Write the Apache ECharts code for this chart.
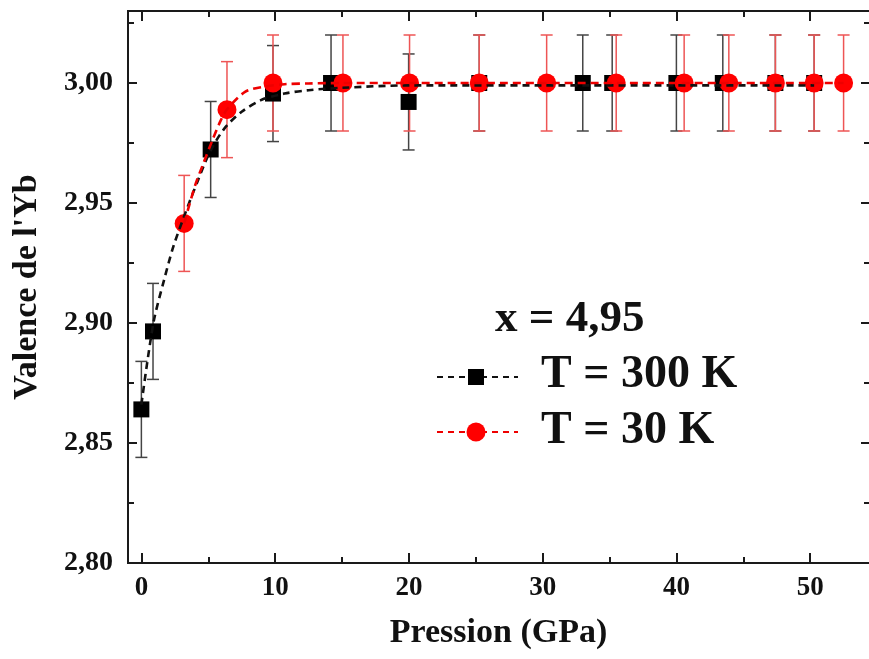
<!DOCTYPE html>
<html>
<head>
<meta charset="utf-8">
<script src="https://cdn.jsdelivr.net/npm/echarts@6/dist/echarts.min.js"></script>
<style>html,body{margin:0;padding:0;background:#fff}#c{width:869px;height:659px}</style>
</head>
<body>
<div id="c"></div>
<script>
// ---- data ----
const p300 = [0, 0.87, 5.18, 9.84, 14.18, 19.98, 25.26, 33.0, 35.2, 40.0, 43.47, 47.4, 50.3];
const v300 = [2.864, 2.8965, 2.9723, 2.9956, 3.000, 2.9921, 3.000, 3.000, 3.000, 3.000, 3.000, 3.000, 3.000];
const e300 = [0.02, 0.02, 0.02, 0.02, 0.02, 0.02, 0.02, 0.02, 0.02, 0.02, 0.02, 0.02, 0.02];

const p30 = [3.2, 6.4, 9.84, 15.07, 20.05, 25.26, 30.3, 35.5, 40.58, 43.92, 47.4, 50.3, 52.5];
const v30 = [2.9415, 2.9889, 3.000, 3.000, 3.000, 3.000, 3.000, 3.000, 3.000, 3.000, 3.000, 3.000, 3.000];
const e30 = [0.02, 0.02, 0.02, 0.02, 0.02, 0.02, 0.02, 0.02, 0.02, 0.02, 0.02, 0.02, 0.02];

// dashed guide curves
const fit300x = [0, 0.9, 1.7, 2.4, 3.3, 4.2, 5.1, 6.2, 7.5, 9.0, 10.7, 12.5, 15, 20, 30, 40, 50.3];
const fit300y = [2.866, 2.900, 2.918, 2.932, 2.946, 2.959, 2.971, 2.981, 2.988, 2.993, 2.9956, 2.997, 2.998, 2.999, 2.999, 2.999, 2.999];
const fit30x = [3.2, 4.0, 4.6, 5.3, 5.9, 6.4, 7.75, 9.0, 10.7, 12.5, 15, 20, 30, 40, 52.5];
const fit30y = [2.9415, 2.957, 2.966, 2.976, 2.984, 2.989, 2.9963, 2.9983, 2.9995, 2.9998, 3.0, 3.0, 3.0, 3.0, 3.0];

const xMajor = [0, 10, 20, 30, 40, 50];
const xMinor = [5, 15, 25, 35, 45];
const yMajor = [2.80, 2.85, 2.90, 2.95, 3.00];
const yMinor = [2.825, 2.875, 2.925, 2.975, 3.025];

const xTitle = 'Pression (GPa)';
const yTitle = "Valence de l'Yb";
const noteText = 'x = 4,95';
const name300 = 'T = 300 K';
const name30 = 'T = 30 K';

// ---- chart ----
const FONT = "'Liberation Serif', 'Times New Roman', serif";
const chart = echarts.init(document.getElementById('c'), null, {renderer: 'canvas'});
const axisLine = {show: true, onZero: false, lineStyle: {color: '#1a1a1a', width: 2}};
const X0 = -1, X1 = 54.4, Y0 = 2.80, Y1 = 3.03;

function xAx(pos, ticks, len, labels) {
  return {
    type: 'value', position: pos, min: X0, max: X1,
    axisLine: axisLine,
    axisTick: {show: true, inside: true, length: len, customValues: ticks, lineStyle: {color: '#1a1a1a', width: 2}},
    axisLabel: labels ? {show: true, customValues: ticks, margin: 12, color: '#111',
      fontFamily: FONT, fontWeight: 'bold', fontSize: 27} : {show: false},
    splitLine: {show: false},
    name: labels ? xTitle : '', nameLocation: 'middle', nameGap: 53,
    nameTextStyle: {fontFamily: FONT, fontWeight: 'bold', fontSize: 34, color: '#111'}
  };
}
function yAx(pos, ticks, len, labels) {
  return {
    type: 'value', position: pos, min: Y0, max: Y1,
    axisLine: pos === 'right' ? {show: false, onZero: false} : axisLine,
    axisTick: {show: true, inside: true, length: len, customValues: ticks, lineStyle: {color: '#1a1a1a', width: 2}},
    axisLabel: labels ? {show: true, customValues: ticks, margin: 15, color: '#111',
      fontFamily: FONT, fontWeight: 'bold', fontSize: 28,
      formatter: v => v.toFixed(2).replace('.', ',')} : {show: false},
    splitLine: {show: false},
    name: labels ? yTitle : '', nameLocation: 'middle', nameGap: 84, nameRotate: 90,
    nameTextStyle: {fontFamily: FONT, fontWeight: 'bold', fontSize: 34, color: '#111'}
  };
}

function errBars(color) {
  return function (params, api) {
    const x = api.value(0), y = api.value(1), e = api.value(2);
    const t = api.coord([x, y + e]), b = api.coord([x, y - e]);
    const hw = 6;
    const st = {stroke: color, lineWidth: 1.5};
    return {type: 'group', children: [
      {type: 'line', shape: {x1: t[0], y1: t[1], x2: b[0], y2: b[1]}, style: st},
      {type: 'line', shape: {x1: t[0] - hw, y1: t[1], x2: t[0] + hw, y2: t[1]}, style: st},
      {type: 'line', shape: {x1: b[0] - hw, y1: b[1], x2: b[0] + hw, y2: b[1]}, style: st}
    ]};
  };
}

const zip = (a, b) => a.map((v, i) => [v, b[i]]);
const zip3 = (a, b, c) => a.map((v, i) => [v, b[i], c[i]]);

const option = {
  animation: false,
  backgroundColor: '#fff',
  grid: {left: 128, top: 11, width: 741, height: 552, containLabel: false},
  xAxis: [
    xAx('bottom', xMajor, 10, true),
    xAx('bottom', xMinor, 6, false),
    xAx('top', xMajor, 10, false),
    xAx('top', xMinor, 6, false)
  ],
  yAxis: [
    yAx('left', yMajor, 9, true),
    yAx('left', yMinor, 6, false),
    yAx('right', yMajor, 8, false),
    yAx('right', yMinor, 5, false)
  ],
  series: [
    {type: 'custom', name: 'err300', renderItem: errBars('#444444'), data: zip3(p300, v300, e300), z: 2},
    {type: 'custom', name: 'err30', renderItem: errBars('#ee5555'), data: zip3(p30, v30, e30), z: 2},
    {type: 'scatter', name: name300, symbol: 'rect', symbolSize: 16, data: zip(p300, v300),
      itemStyle: {color: '#000', opacity: 1}, z: 3},
    {type: 'scatter', name: name30, symbol: 'circle', symbolSize: 19, data: zip(p30, v30),
      itemStyle: {color: '#ff0000', opacity: 1}, z: 4},
    {type: 'line', name: 'fit300', data: zip(fit300x, fit300y), smooth: 0.3, showSymbol: false, symbol: 'none',
      lineStyle: {color: '#111', width: 2.6, type: [7, 5]}, z: 5},
    {type: 'line', name: 'fit30', data: zip(fit30x, fit30y), smooth: 0.3, showSymbol: false, symbol: 'none',
      lineStyle: {color: '#ee0000', width: 2.6, type: [8, 5]}, z: 6}
  ],
  graphic: [
    {type: 'text', left: 495, top: 297, z: 10,
      style: {text: noteText, fontFamily: FONT, fontWeight: 'bold', fontSize: 45, fill: '#111'}},
    {type: 'line', z: 10, shape: {x1: 437, y1: 377, x2: 518, y2: 377},
      style: {stroke: '#111', lineWidth: 2.2, lineDash: [6, 5]}},
    {type: 'rect', z: 11, shape: {x: 468, y: 369, width: 16, height: 16}, style: {fill: '#000'}},
    {type: 'text', left: 541, top: 352, z: 10,
      style: {text: name300, fontFamily: FONT, fontWeight: 'bold', fontSize: 46, fill: '#111'}},
    {type: 'line', z: 10, shape: {x1: 437, y1: 432, x2: 518, y2: 432},
      style: {stroke: '#ee0000', lineWidth: 2.2, lineDash: [6, 5]}},
    {type: 'circle', z: 11, shape: {cx: 476, cy: 432, r: 9.5}, style: {fill: '#ff0000'}},
    {type: 'text', left: 541, top: 408, z: 10,
      style: {text: name30, fontFamily: FONT, fontWeight: 'bold', fontSize: 46, fill: '#111'}}
  ]
};
chart.setOption(option);
</script>
</body>
</html>
